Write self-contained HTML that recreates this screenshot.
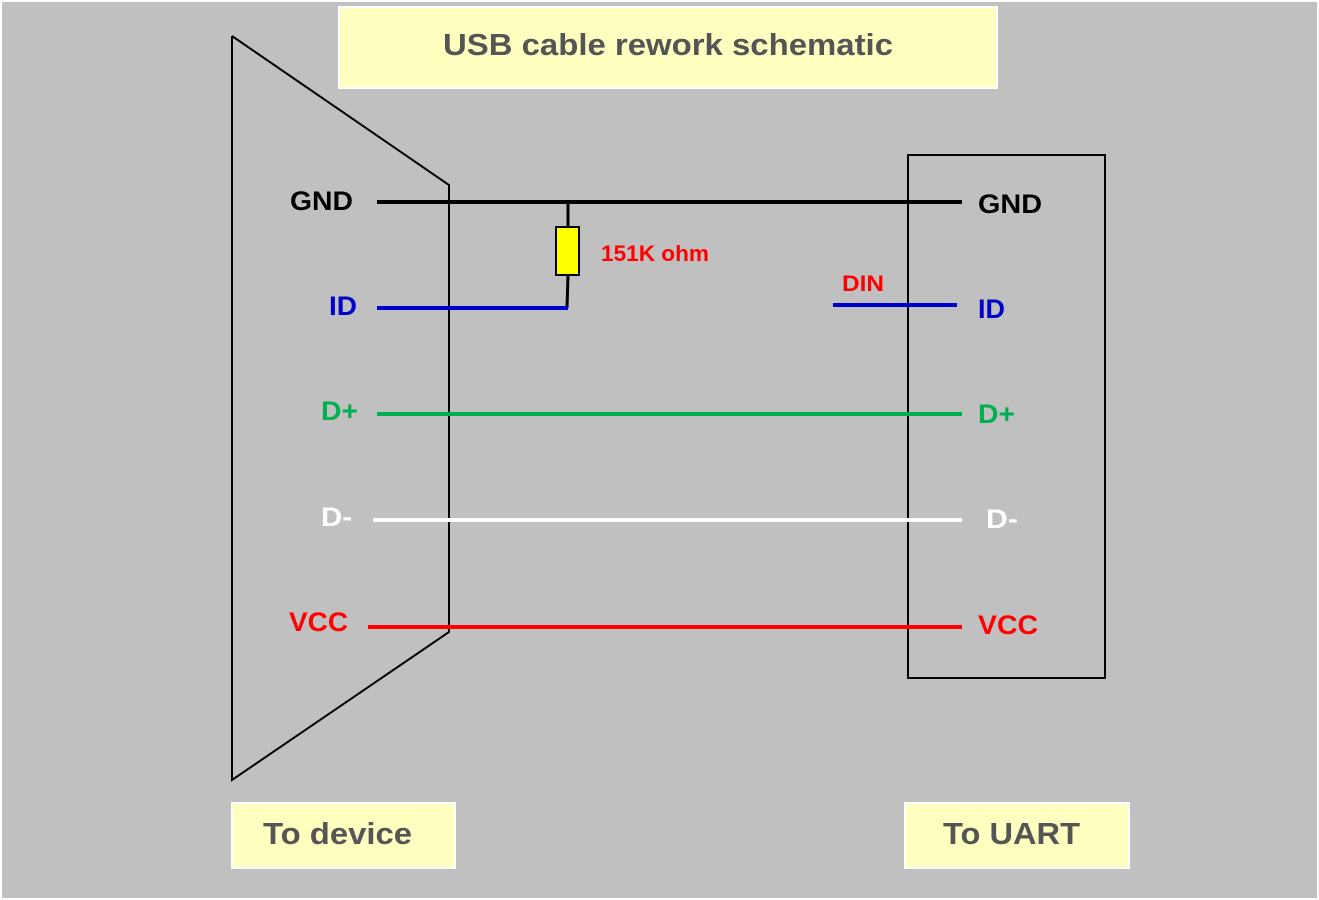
<!DOCTYPE html>
<html><head><style>
html,body{margin:0;padding:0;background:#fff;}
svg{display:block;}
text{font-family:"Liberation Sans",Arial,sans-serif;font-weight:bold;}
</style></head><body>
<svg width="1319" height="900" viewBox="0 0 1319 900" xmlns="http://www.w3.org/2000/svg">
<rect x="2" y="2" width="1315" height="896" fill="#c0c0c0"/>
<rect x="339" y="7" width="658" height="81" fill="#ffffc0" stroke="#fff" stroke-width="2"/>
<text x="443" y="55" font-size="31" fill="#555" textLength="450" lengthAdjust="spacingAndGlyphs">USB cable rework schematic</text>
<polyline points="232,36 449,185 449,632 232,780 232,36" fill="none" stroke="#000" stroke-width="2"/>
<rect x="908" y="155" width="197" height="523" fill="none" stroke="#000" stroke-width="2"/>
<line x1="377" y1="202" x2="962" y2="202" stroke="#000" stroke-width="4"/>
<line x1="568" y1="202" x2="568" y2="228" stroke="#000" stroke-width="3"/>
<rect x="556" y="227" width="23" height="48" fill="#ffff00" stroke="#000" stroke-width="2"/>
<line x1="568" y1="275" x2="567" y2="308" stroke="#000" stroke-width="3"/>
<line x1="377" y1="308" x2="568" y2="308" stroke="#0000cc" stroke-width="4"/>
<line x1="833" y1="305" x2="957" y2="305" stroke="#0000cc" stroke-width="4"/>
<line x1="377" y1="414" x2="962" y2="414" stroke="#00b050" stroke-width="4"/>
<line x1="373" y1="520" x2="962" y2="520" stroke="#fff" stroke-width="4"/>
<line x1="368" y1="627" x2="962" y2="627" stroke="#ff0000" stroke-width="4"/>
<text x="290" y="210" font-size="27" fill="#000" textLength="63" lengthAdjust="spacingAndGlyphs">GND</text>
<text x="329" y="315" font-size="27" fill="#0000cc" textLength="28" lengthAdjust="spacingAndGlyphs">ID</text>
<text x="321" y="420" font-size="27" fill="#00b050" textLength="37" lengthAdjust="spacingAndGlyphs">D+</text>
<text x="321" y="526" font-size="27" fill="#fff" textLength="31" lengthAdjust="spacingAndGlyphs">D-</text>
<text x="289" y="631" font-size="27" fill="#ff0000" textLength="59" lengthAdjust="spacingAndGlyphs">VCC</text>
<text x="601" y="261" font-size="22" fill="#ff0000" textLength="108" lengthAdjust="spacingAndGlyphs">151K ohm</text>
<text x="842" y="291" font-size="22" fill="#ff0000" textLength="42" lengthAdjust="spacingAndGlyphs">DIN</text>
<text x="978" y="213" font-size="27" fill="#000" textLength="64" lengthAdjust="spacingAndGlyphs">GND</text>
<text x="978" y="318" font-size="27" fill="#0000cc" textLength="27" lengthAdjust="spacingAndGlyphs">ID</text>
<text x="978" y="423" font-size="27" fill="#00b050" textLength="37" lengthAdjust="spacingAndGlyphs">D+</text>
<text x="986" y="528" font-size="27" fill="#fff" textLength="32" lengthAdjust="spacingAndGlyphs">D-</text>
<text x="978" y="634" font-size="27" fill="#ff0000" textLength="60" lengthAdjust="spacingAndGlyphs">VCC</text>
<rect x="232" y="803" width="223" height="65" fill="#ffffc0" stroke="#fff" stroke-width="2"/>
<text x="263" y="844" font-size="31" fill="#555" textLength="149" lengthAdjust="spacingAndGlyphs">To device</text>
<rect x="905" y="803" width="224" height="65" fill="#ffffc0" stroke="#fff" stroke-width="2"/>
<text x="943" y="844" font-size="31" fill="#555" textLength="137" lengthAdjust="spacingAndGlyphs">To UART</text>
</svg>
</body></html>
